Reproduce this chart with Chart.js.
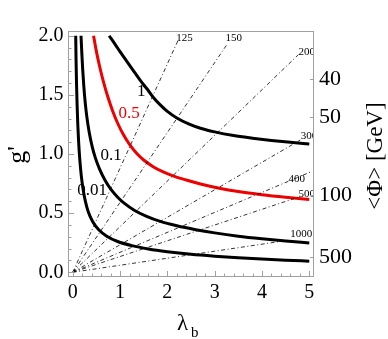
<!DOCTYPE html>
<html>
<head>
<meta charset="utf-8">
<script src="https://cdn.jsdelivr.net/npm/chart.js@4.4.1/dist/chart.umd.min.js"></script>
<style>
  html, body { margin: 0; padding: 0; background: #fff; }
  #wrap { width: 388px; height: 339px; }
</style>
</head>
<body>
<div id="wrap"><canvas id="contourChart" width="388" height="339"></canvas></div>
<script>
// contour curves (lambda_b, g')
const curve1X = [0.77, 0.9, 1.0, 1.14, 1.3, 1.49, 1.6, 1.7, 1.85, 2.0, 2.2, 2.45, 2.7, 3.0, 3.4, 3.8, 4.2, 4.6, 5.0];
const curve1Y = [2.0, 1.925, 1.865, 1.785, 1.695, 1.59, 1.535, 1.48, 1.415, 1.36, 1.305, 1.255, 1.218, 1.187, 1.156, 1.134, 1.115, 1.099, 1.085];

const curve05X = [0.44, 0.5, 0.57, 0.65, 0.74, 0.84, 0.95, 1.07, 1.2, 1.35, 1.5, 1.7, 1.9, 2.15, 2.4, 2.7, 3.1, 3.5, 4.0, 4.5, 5.0];
const curve05Y = [2.0, 1.868, 1.738, 1.61, 1.486, 1.368, 1.26, 1.164, 1.081, 1.006, 0.949, 0.893, 0.851, 0.811, 0.78, 0.747, 0.711, 0.683, 0.656, 0.634, 0.615];

const curve01X = [0.175, 0.19, 0.21, 0.235, 0.265, 0.3, 0.35, 0.41, 0.48, 0.57, 0.68, 0.8, 0.95, 1.1, 1.3, 1.55, 1.85, 2.2, 2.6, 3.0, 3.5, 4.0, 4.5, 5.0];
const curve01Y = [2.0, 1.87, 1.72, 1.57, 1.43, 1.31, 1.18, 1.065, 0.965, 0.87, 0.78, 0.705, 0.635, 0.58, 0.525, 0.475, 0.43, 0.393, 0.36, 0.333, 0.305, 0.283, 0.264, 0.248];

const curve001X = [0.063, 0.07, 0.08, 0.092, 0.107, 0.125, 0.15, 0.18, 0.22, 0.27, 0.33, 0.42, 0.55, 0.72, 0.95, 1.25, 1.6, 2.0, 2.5, 3.0, 3.5, 4.0, 4.5, 5.0];
const curve001Y = [2.0, 1.8, 1.6, 1.42, 1.25, 1.1, 0.95, 0.82, 0.7, 0.595, 0.51, 0.43, 0.36, 0.305, 0.26, 0.225, 0.197, 0.174, 0.152, 0.136, 0.123, 0.112, 0.102, 0.094];

const contourLabels = ['1', '0.5', '0.1', '0.01'];
const contourLabelX = [1.45, 1.19, 0.81, 0.41];
const contourLabelY = [1.53, 1.345, 0.99, 0.695];

// dash-dot mass lines from the origin
const massLabels = ['125', '150', '200', '300', '400', '500', '1000'];
const massEndX = [2.23, 3.25, 4.77, 4.81, 5.02, 4.77, 4.58];
const massEndY = [1.964, 1.92, 1.84, 1.118, 0.847, 0.635, 0.272];
const massLabelX = [2.19, 3.23, 4.77, 4.82, 4.56, 4.77, 4.6];
const massLabelY = [1.98, 1.98, 1.863, 1.152, 0.787, 0.66, 0.322];

const xTickValues = [0, 1, 2, 3, 4, 5];
const yTickValues = [0, 0.5, 1, 1.5, 2];
const phiTickLabels = ['40', '50', '100', '500'];
const phiTickPos = [1.63, 1.31, 0.655, 0.13];

const SERIF = "'Liberation Serif', 'DejaVu Serif', serif";
const FRAME = '#a0a0a0';

function toPoints(xs, ys) {
  return xs.map((x, i) => ({ x: x, y: ys[i] }));
}

const datasets = [];
massEndX.forEach((ex, i) => {
  datasets.push({
    data: [{ x: 0, y: 0 }, { x: ex, y: massEndY[i] }],
    borderColor: '#000',
    borderWidth: 0.8,
    borderDash: [4, 2.5, 1, 2.5],
  });
});
[
  [curve1X, curve1Y, '#000'],
  [curve05X, curve05Y, 'rgb(238,0,0)'],
  [curve01X, curve01Y, '#000'],
  [curve001X, curve001Y, '#000'],
].forEach(c => {
  datasets.push({
    data: toPoints(c[0], c[1]),
    borderColor: c[2],
    borderWidth: 3,
    cubicInterpolationMode: 'monotone',
  });
});

const framePlugin = {
  id: 'framePlugin',
  afterDatasetsDraw(chart) {
    const ctx = chart.ctx;
    const a = chart.chartArea;
    const sx = chart.scales.x, sy = chart.scales.y;
    ctx.save();

    // labels on the contours
    ctx.font = '17px ' + SERIF;
    ctx.textAlign = 'center';
    ctx.textBaseline = 'middle';
    contourLabels.forEach((t, i) => {
      ctx.fillStyle = t === '0.5' ? 'rgb(238,0,0)' : '#000';
      ctx.fillText(t, sx.getPixelForValue(contourLabelX[i]), sy.getPixelForValue(contourLabelY[i]));
    });

    // labels on the mass lines, clipped by the frame
    ctx.save();
    ctx.beginPath();
    ctx.rect(a.left, a.top, a.right - a.left, a.bottom - a.top);
    ctx.clip();
    ctx.font = '11px ' + SERIF;
    ctx.textAlign = 'left';
    ctx.fillStyle = '#000';
    massLabels.forEach((t, i) => {
      ctx.fillText(t, sx.getPixelForValue(massLabelX[i]), sy.getPixelForValue(massLabelY[i]));
    });
    ctx.restore();

    // frame and inward ticks
    ctx.strokeStyle = FRAME;
    ctx.lineWidth = 1;
    ctx.strokeRect(a.left + 0.5, a.top + 0.5, a.right - a.left - 1, a.bottom - a.top - 1);
    ctx.beginPath();
    for (let k = 0; k <= 25; k++) {
      const px = Math.round(sx.getPixelForValue(k * 0.2)) + 0.5;
      const len = k % 5 === 0 ? 6 : 3.5;
      ctx.moveTo(px, a.bottom);
      ctx.lineTo(px, a.bottom - len);
    }
    for (let k = 0; k <= 20; k++) {
      const py = Math.round(sy.getPixelForValue(k * 0.1)) + 0.5;
      const len = k % 5 === 0 ? 6 : 3.5;
      ctx.moveTo(a.left, py);
      ctx.lineTo(a.left + len, py);
    }
    phiTickPos.forEach(v => {
      const py = Math.round(sy.getPixelForValue(v)) + 0.5;
      ctx.moveTo(a.right, py);
      ctx.lineTo(a.right - 4, py);
    });
    ctx.stroke();

    // axis titles
    ctx.fillStyle = '#000';
    ctx.textAlign = 'center';
    ctx.textBaseline = 'middle';
    ctx.save();
    ctx.translate(18, 155);
    ctx.rotate(-Math.PI / 2);
    ctx.font = '26px ' + SERIF;
    ctx.fillText("g'", 0, 0);
    ctx.restore();

    ctx.save();
    ctx.translate(376, 156);
    ctx.rotate(-Math.PI / 2);
    ctx.font = '23px ' + SERIF;
    ctx.fillText('<\u03A6> [GeV]', 0, 0);
    ctx.restore();

    ctx.textAlign = 'left';
    ctx.textBaseline = 'alphabetic';
    ctx.font = '23px ' + SERIF;
    ctx.fillText('\u03BB', 177, 330);
    ctx.font = '15px ' + SERIF;
    ctx.fillText('b', 191, 337);

    ctx.restore();
  }
};

new Chart(document.getElementById('contourChart').getContext('2d'), {
  type: 'scatter',
  data: { datasets: datasets },
  options: {
    responsive: false,
    animation: false,
    showLine: true,
    layout: { padding: { top: 31, left: 0, right: 0, bottom: 0 } },
    elements: { point: { radius: 0 } },
    plugins: { legend: { display: false }, tooltip: { enabled: false } },
    scales: {
      x: {
        type: 'linear',
        min: -0.1,
        max: 5.1,
        grid: { display: false, drawTicks: false },
        border: { display: false },
        afterBuildTicks: s => { s.ticks = xTickValues.map(v => ({ value: v })); },
        afterFit: s => { s.height = 62; },
        ticks: {
          color: '#000',
          padding: 4,
          maxRotation: 0,
          autoSkip: false,
          font: { family: SERIF, size: 20 },
          callback: v => String(v),
        },
      },
      y: {
        type: 'linear',
        position: 'left',
        min: -0.04,
        max: 2.04,
        grid: { display: false, drawTicks: false },
        border: { display: false },
        afterBuildTicks: s => { s.ticks = yTickValues.map(v => ({ value: v })); },
        afterFit: s => { s.width = 68; },
        ticks: {
          color: '#000',
          padding: 4.5,
          autoSkip: false,
          font: { family: SERIF, size: 20 },
          callback: v => v.toFixed(1),
        },
      },
      y2: {
        type: 'linear',
        position: 'right',
        min: -0.04,
        max: 2.04,
        grid: { display: false, drawTicks: false },
        border: { display: false },
        afterBuildTicks: s => { s.ticks = phiTickPos.map(v => ({ value: v })); },
        afterFit: s => { s.width = 74; },
        ticks: {
          color: '#000',
          padding: 5,
          autoSkip: false,
          font: { family: SERIF, size: 22 },
          callback: (v, i) => phiTickLabels[i],
        },
      },
    },
  },
  plugins: [framePlugin],
});
</script>
</body>
</html>
